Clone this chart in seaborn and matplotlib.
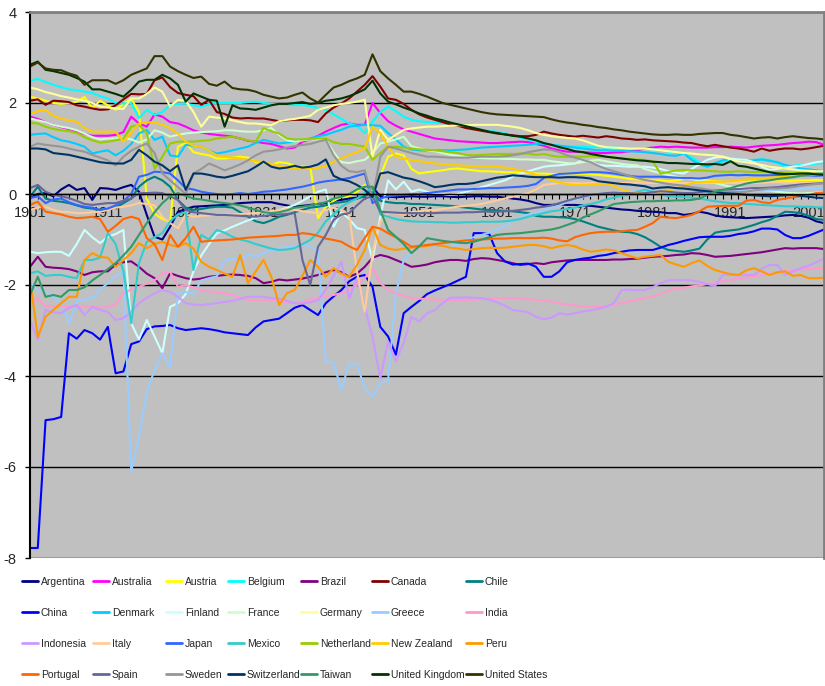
import matplotlib
matplotlib.use("Agg")
import matplotlib.pyplot as plt
from matplotlib.lines import Line2D
from matplotlib.ticker import MultipleLocator
import pandas as pd
import seaborn as sns

# --- data (one value per year, 1901-2003) ---
years = list(range(1901, 2004))

argentina = [-0.09, 0.00, 0.02, -0.05, 0.10, 0.20, 0.09, 0.13, -0.13, 0.13,
             0.12, 0.09, 0.15, 0.20, 0.05, -0.46, -0.94, -1.00, -0.72, -0.39,
             -0.33, -0.28, -0.27, -0.26, -0.25, -0.24, -0.22, -0.20, -0.19, -0.18,
             -0.18, -0.18, -0.22, -0.25, -0.28, -0.26, -0.24, -0.22, -0.20, -0.15,
             -0.13, -0.10, -0.08, -0.05, 0.15, -0.05, -0.06, -0.07, -0.06, -0.05,
             -0.06, -0.06, -0.05, -0.05, -0.06, -0.07, -0.06, -0.05, -0.05, -0.06,
             -0.06, -0.08, -0.10, -0.12, -0.15, -0.20, -0.24, -0.24, -0.23, -0.24,
             -0.24, -0.25, -0.26, -0.28, -0.30, -0.32, -0.34, -0.35, -0.37, -0.38,
             -0.39, -0.40, -0.42, -0.42, -0.46, -0.44, -0.39, -0.42, -0.47, -0.50,
             -0.51, -0.52, -0.53, -0.52, -0.51, -0.50, -0.49, -0.47, -0.46, -0.48,
             -0.52, -0.60, -0.64]
australia = [1.70, 1.65, 1.58, 1.52, 1.47, 1.43, 1.38, 1.32, 1.28, 1.28,
             1.28, 1.30, 1.36, 1.70, 1.55, 1.48, 1.75, 1.70, 1.58, 1.55,
             1.48, 1.40, 1.35, 1.32, 1.30, 1.28, 1.26, 1.22, 1.17, 1.15,
             1.12, 1.10, 1.05, 1.00, 1.02, 1.15, 1.20, 1.28, 1.37, 1.45,
             1.52, 1.55, 1.52, 1.52, 2.00, 1.78, 1.60, 1.50, 1.42, 1.37,
             1.32, 1.27, 1.22, 1.20, 1.18, 1.16, 1.15, 1.14, 1.13, 1.12,
             1.12, 1.13, 1.14, 1.15, 1.14, 1.10, 1.06, 1.00, 0.96, 0.93,
             0.93, 0.92, 0.91, 0.90, 0.90, 0.91, 0.92, 0.94, 0.96, 1.00,
             1.02, 1.04, 1.03, 1.04, 1.03, 1.02, 1.02, 1.02, 1.03, 1.03,
             1.04, 1.03, 1.02, 1.04, 1.06, 1.07, 1.08, 1.10, 1.12, 1.13,
             1.15, 1.14, 1.08]
austria = [2.14, 2.10, 2.05, 2.00, 1.98, 2.00, 2.03, 2.13, 1.88, 2.05,
           1.95, 1.85, 1.98, 2.10, 1.80, -0.10, -0.43, -0.55, -0.61, 1.04,
           1.12, 0.92, 0.88, 0.85, 0.78, 0.78, 0.80, 0.82, 0.80, 0.70,
           0.68, 0.64, 0.70, 0.68, 0.62, 0.60, 0.60, -0.53, -0.28, -0.15,
           -0.06, -0.05, 0.05, 0.20, 0.05, 0.40, 0.82, 0.89, 0.85, 0.55,
           0.45, 0.48, 0.50, 0.52, 0.55, 0.56, 0.54, 0.52, 0.50, 0.50,
           0.49, 0.48, 0.48, 0.47, 0.46, 0.45, 0.45, 0.44, 0.44, 0.45,
           0.45, 0.44, 0.43, 0.42, 0.40, 0.38, 0.36, 0.33, 0.32, 0.32,
           0.30, 0.30, 0.28, 0.30, 0.33, 0.35, 0.33, 0.30, 0.28, 0.27,
           0.26, 0.26, 0.27, 0.28, 0.27, 0.27, 0.28, 0.28, 0.29, 0.30,
           0.30, 0.31, 0.30]
belgium = [2.49, 2.53, 2.46, 2.40, 2.35, 2.30, 2.28, 2.25, 2.22, 2.15,
           2.10, 2.00, 1.99, 2.00, 1.67, 1.85, 1.74, 1.80, 1.96, 1.98,
           1.99, 1.95, 1.92, 1.98, 2.00, 2.00, 2.00, 2.00, 2.02, 2.03,
           2.00, 1.98, 1.97, 1.96, 1.95, 1.96, 1.93, 1.89, 1.85, 1.75,
           1.65, 1.55, 1.50, 1.34, 1.59, 1.80, 1.92, 1.82, 1.70, 1.63,
           1.60, 1.58, 1.57, 1.56, 1.55, 1.52, 1.48, 1.44, 1.40, 1.38,
           1.37, 1.33, 1.28, 1.24, 1.20, 1.16, 1.11, 1.08, 1.06, 1.05,
           1.04, 1.04, 1.03, 1.03, 1.02, 1.02, 1.01, 1.00, 1.00, 1.00,
           0.98, 0.96, 0.93, 0.90, 0.89, 0.80, 0.70, 0.60, 0.65, 0.72,
           0.75, 0.75, 0.74, 0.75, 0.76, 0.75, 0.68, 0.60, 0.62, 0.64,
           0.65, 0.67, 0.68]
brazil = [-1.60, -1.38, -1.60, -1.62, -1.63, -1.65, -1.70, -1.78, -1.72, -1.70,
          -1.70, -1.55, -1.50, -1.48, -1.60, -1.75, -1.85, -2.07, -1.74, -1.80,
          -1.85, -1.88, -1.86, -1.82, -1.80, -1.78, -1.77, -1.78, -1.80, -1.85,
          -1.96, -1.93, -1.88, -1.90, -1.88, -1.86, -1.82, -1.78, -1.72, -1.67,
          -1.72, -1.82, -1.75, -1.60, -1.40, -1.34, -1.38, -1.45, -1.52, -1.60,
          -1.58, -1.55, -1.50, -1.47, -1.45, -1.45, -1.47, -1.43, -1.41, -1.42,
          -1.45, -1.48, -1.52, -1.56, -1.54, -1.52, -1.54, -1.50, -1.48, -1.46,
          -1.45, -1.45, -1.45, -1.45, -1.45, -1.44, -1.44, -1.43, -1.42, -1.40,
          -1.38, -1.37, -1.36, -1.34, -1.33, -1.30, -1.31, -1.34, -1.38, -1.37,
          -1.36, -1.34, -1.32, -1.30, -1.28, -1.25, -1.22, -1.19, -1.20, -1.19,
          -1.19, -1.19, -1.21]
canada = [2.05, 2.08, 1.96, 2.05, 2.04, 2.02, 1.95, 1.92, 1.88, 1.85,
          1.86, 1.95, 2.08, 2.20, 2.19, 2.20, 2.50, 2.56, 2.35, 2.22,
          2.18, 2.15, 1.96, 2.07, 1.80, 1.76, 1.68, 1.66, 1.67, 1.66,
          1.66, 1.63, 1.60, 1.62, 1.63, 1.63, 1.62, 1.58, 1.77, 1.90,
          1.99, 2.10, 2.25, 2.40, 2.59, 2.36, 2.10, 2.07, 1.98, 1.85,
          1.75, 1.68, 1.63, 1.58, 1.53, 1.50, 1.45, 1.42, 1.39, 1.36,
          1.33, 1.31, 1.29, 1.27, 1.27, 1.30, 1.37, 1.33, 1.30, 1.28,
          1.26, 1.28, 1.26, 1.24, 1.27, 1.25, 1.22, 1.21, 1.19, 1.20,
          1.18, 1.17, 1.16, 1.15, 1.13, 1.12, 1.08, 1.05, 1.08, 1.05,
          1.02, 1.00, 0.97, 0.93, 1.00, 0.95, 0.98, 1.00, 1.00, 0.98,
          1.00, 1.03, 1.06]
chile = [-0.06, 0.16, -0.10, -0.15, -0.17, -0.20, -0.25, -0.30, -0.32, -0.35,
         -0.33, -0.30, -0.20, -0.10, 0.16, 0.30, 0.38, 0.30, 0.16, -0.13,
         -0.30, -0.35, -0.33, -0.30, -0.28, -0.28, -0.30, -0.40, -0.50, -0.60,
         -0.64, -0.58, -0.50, -0.46, -0.40, -0.35, -0.30, -0.28, -0.25, -0.20,
         -0.18, -0.15, -0.10, -0.05, 0.05, -0.15, -0.18, -0.20, -0.20, -0.22,
         -0.22, -0.23, -0.24, -0.25, -0.26, -0.28, -0.30, -0.32, -0.34, -0.35,
         -0.36, -0.37, -0.38, -0.40, -0.42, -0.48, -0.50, -0.50, -0.51, -0.52,
         -0.55, -0.60, -0.66, -0.72, -0.76, -0.80, -0.83, -0.84, -0.88, -0.95,
         -1.05, -1.16, -1.23, -1.25, -1.27, -1.24, -1.20, -1.00, -0.85, -0.82,
         -0.80, -0.78, -0.73, -0.68, -0.62, -0.57, -0.48, -0.39, -0.40, -0.42,
         -0.48, -0.55, -0.57]
china = [-7.78, -7.78, -4.97, -4.95, -4.90, -3.06, -3.18, -2.99, -3.06, -3.20,
         -2.92, -3.94, -3.90, -3.30, -3.24, -2.97, -2.91, -2.90, -2.88, -2.95,
         -2.99, -2.97, -2.95, -2.97, -3.00, -3.04, -3.06, -3.08, -3.10, -2.93,
         -2.80, -2.77, -2.74, -2.62, -2.50, -2.44, -2.55, -2.66, -2.40, -2.25,
         -2.11, -1.92, -1.82, -1.78, -2.04, -2.92, -3.13, -3.53, -2.62, -2.48,
         -2.35, -2.20, -2.12, -2.05, -1.98, -1.90, -1.82, -0.86, -0.86, -0.88,
         -1.30, -1.48, -1.55, -1.54, -1.53, -1.60, -1.82, -1.82, -1.70, -1.50,
         -1.45, -1.42, -1.40, -1.36, -1.34, -1.30, -1.27, -1.24, -1.23, -1.23,
         -1.23, -1.18, -1.12, -1.08, -1.03, -0.99, -0.95, -0.94, -0.94, -0.94,
         -0.92, -0.88, -0.86, -0.82, -0.76, -0.76, -0.78, -0.90, -0.97, -0.97,
         -0.92, -0.85, -0.78]
denmark = [1.30, 1.32, 1.33, 1.25, 1.18, 1.15, 1.10, 1.04, 0.89, 0.93,
           0.96, 0.85, 0.95, 1.10, 1.33, 1.41, 1.19, 1.26, 0.85, 0.82,
           1.08, 1.06, 1.04, 0.95, 0.89, 0.92, 0.96, 1.00, 1.04, 1.12,
           1.19, 1.15, 1.11, 1.13, 1.15, 1.18, 1.22, 1.27, 1.30, 1.36,
           1.41, 1.48, 1.50, 1.52, 1.51, 1.50, 1.34, 1.20, 1.04, 0.98,
           0.96, 0.95, 0.96, 0.96, 0.96, 0.97, 0.98, 1.00, 1.02, 1.03,
           1.04, 1.05, 1.06, 1.07, 1.08, 1.10, 1.11, 1.08, 1.06, 1.04,
           1.02, 1.00, 0.98, 0.96, 0.96, 0.95, 0.95, 0.94, 0.93, 0.92,
           0.90, 0.88, 0.85, 0.84, 0.89, 0.75, 0.65, 0.60, 0.68, 0.74,
           0.78, 0.74, 0.72, 0.74, 0.76, 0.73, 0.70, 0.64, 0.60, 0.56,
           0.54, 0.52, 0.50]
finland = [-1.27, -1.30, -1.28, -1.27, -1.27, -1.36, -1.10, -0.79, -0.95, -1.08,
           -0.94, -0.88, -0.79, -2.84, -3.20, -2.77, -3.13, -3.50, -2.48, -2.40,
           -2.20, -1.70, -1.35, -1.10, -0.86, -0.80, -0.72, -0.65, -0.58, -0.52,
           -0.48, -0.42, -0.36, -0.30, -0.24, -0.15, -0.05, 0.05, 0.10, -0.72,
           -0.40, -0.55, -0.75, -0.79, -1.45, -0.50, 0.30, 0.10, 0.27, 0.05,
           0.10, 0.05, 0.02, 0.00, -0.02, 0.00, 0.05, 0.10, 0.15, 0.20,
           0.25, 0.30, 0.38, 0.45, 0.50, 0.55, 0.60, 0.62, 0.63, 0.65,
           0.67, 0.75, 0.70, 0.64, 0.62, 0.62, 0.61, 0.60, 0.60, 0.60,
           0.58, 0.55, 0.50, 0.47, 0.45, 0.55, 0.65, 0.75, 0.80, 0.82,
           0.78, 0.76, 0.75, 0.70, 0.60, 0.53, 0.55, 0.58, 0.60, 0.62,
           0.66, 0.70, 0.72]
france = [1.66, 1.62, 1.58, 1.52, 1.48, 1.45, 1.40, 1.33, 1.25, 1.20,
          1.22, 1.22, 1.24, 1.20, 1.13, 1.20, 1.40, 1.35, 1.26, 1.30,
          1.33, 1.35, 1.36, 1.37, 1.38, 1.40, 1.40, 1.38, 1.37, 1.37,
          1.40, 1.45, 1.30, 1.18, 1.15, 1.18, 1.20, 1.20, 1.19, 0.92,
          0.70, 0.68, 0.72, 0.75, 0.90, 1.11, 1.15, 1.20, 1.26, 1.05,
          1.00, 0.96, 0.94, 0.90, 0.86, 0.84, 0.82, 0.80, 0.79, 0.78,
          0.78, 0.77, 0.77, 0.76, 0.76, 0.75, 0.75, 0.72, 0.70, 0.68,
          0.67, 0.70, 0.73, 0.75, 0.72, 0.69, 0.66, 0.64, 0.63, 0.55,
          0.50, 0.46, 0.42, 0.38, 0.35, 0.33, 0.30, 0.27, 0.24, 0.20,
          0.16, 0.14, 0.12, 0.10, 0.09, 0.07, 0.05, 0.03, 0.02, 0.01,
          0.02, 0.03, 0.02]
germany = [2.34, 2.30, 2.24, 2.20, 2.15, 2.12, 2.08, 2.05, 2.00, 1.92,
           1.90, 1.88, 1.87, 2.10, 2.10, 2.20, 2.34, 2.25, 1.92, 2.07,
           2.05, 1.80, 1.48, 1.70, 1.68, 1.66, 1.62, 1.58, 1.55, 1.55,
           1.53, 1.51, 1.60, 1.63, 1.65, 1.68, 1.72, 1.85, 1.90, 1.95,
           1.98, 2.00, 2.03, 2.07, 0.82, 1.41, 1.19, 1.30, 1.41, 1.44,
           1.46, 1.48, 1.48, 1.49, 1.50, 1.51, 1.51, 1.52, 1.52, 1.52,
           1.52, 1.50, 1.48, 1.45, 1.40, 1.34, 1.30, 1.27, 1.25, 1.23,
           1.22, 1.18, 1.12, 1.06, 1.03, 1.02, 1.01, 1.00, 1.00, 1.00,
           0.98, 0.96, 0.94, 0.92, 0.90, 0.89, 0.87, 0.86, 0.85, 0.82,
           0.76, 0.72, 0.70, 0.67, 0.64, 0.60, 0.58, 0.56, 0.54, 0.52,
           0.51, 0.50, 0.50]
greece = [-1.93, -2.11, -2.15, -2.25, -2.40, -2.84, -2.36, -2.32, -2.29, -2.10,
          -1.96, -1.80, -1.71, -6.10, -5.33, -4.35, -3.87, -3.50, -3.80, -2.18,
          -2.15, -2.20, -1.90, -1.85, -1.81, -1.45, -1.42, -1.45, -1.33, -1.37,
          -1.30, -1.24, -1.20, -1.16, -1.16, -1.10, -1.16, -1.25, -3.69, -3.71,
          -4.31, -3.72, -3.74, -4.27, -4.45, -4.16, -4.09, -2.20, -1.45, -1.30,
          -1.12, -1.12, -1.14, -1.16, -1.16, -1.10, -1.00, -0.95, -0.90, -0.85,
          -0.79, -0.70, -0.60, -0.50, -0.45, -0.42, -0.35, -0.30, -0.25, -0.18,
          -0.12, -0.08, -0.04, 0.00, 0.02, 0.04, 0.05, 0.05, 0.06, 0.06,
          0.05, 0.04, 0.03, 0.03, 0.02, 0.02, 0.01, 0.02, 0.03, 0.04,
          0.05, 0.06, 0.06, 0.07, 0.08, 0.08, 0.09, 0.10, 0.10, 0.11,
          0.12, 0.12, 0.13]
india = [-2.40, -2.30, -2.47, -2.46, -2.47, -2.47, -2.48, -2.47, -2.48, -2.50,
         -2.48, -2.43, -2.18, -2.10, -2.04, -1.97, -1.90, -1.74, -1.71, -2.04,
         -2.00, -2.05, -2.11, -2.14, -2.16, -2.18, -2.22, -2.28, -2.33, -2.33,
         -2.33, -2.33, -2.35, -2.38, -2.40, -2.38, -2.32, -2.28, -2.25, -2.22,
         -2.18, -2.11, -2.00, -1.85, -1.63, -1.96, -2.10, -2.18, -2.24, -2.29,
         -2.30, -2.31, -2.32, -2.33, -2.33, -2.33, -2.33, -2.32, -2.31, -2.30,
         -2.30, -2.29, -2.29, -2.29, -2.31, -2.33, -2.34, -2.36, -2.40, -2.43,
         -2.45, -2.47, -2.48, -2.48, -2.46, -2.43, -2.40, -2.36, -2.32, -2.28,
         -2.25, -2.20, -2.12, -2.09, -2.06, -2.03, -2.01, -1.98, -1.95, -1.92,
         -1.89, -1.86, -1.84, -1.81, -1.78, -1.75, -1.73, -1.70, -1.68, -1.66,
         -1.65, -1.64, -1.62]
indonesia = [-2.77, -3.20, -2.55, -2.60, -2.62, -2.50, -2.44, -2.66, -2.48, -2.55,
             -2.59, -2.77, -2.73, -2.59, -2.40, -2.28, -2.18, -2.11, -2.15, -2.26,
             -2.40, -2.43, -2.44, -2.42, -2.40, -2.37, -2.35, -2.30, -2.26, -2.26,
             -2.26, -2.29, -2.30, -2.35, -2.40, -2.41, -2.38, -2.33, -2.10, -1.80,
             -1.49, -2.29, -1.85, -2.48, -3.14, -4.05, -3.24, -3.68, -3.27, -2.70,
             -2.80, -2.62, -2.55, -2.40, -2.28, -2.28, -2.27, -2.28, -2.29, -2.32,
             -2.38, -2.45, -2.55, -2.57, -2.60, -2.70, -2.75, -2.72, -2.62, -2.65,
             -2.62, -2.58, -2.56, -2.52, -2.48, -2.40, -2.11, -2.10, -2.11, -2.11,
             -2.05, -1.96, -1.90, -1.89, -1.89, -1.90, -1.93, -1.98, -2.02, -1.78,
             -1.78, -1.79, -1.78, -1.78, -1.65, -1.56, -1.56, -1.78, -1.70, -1.63,
             -1.58, -1.50, -1.42]
italy = [-0.35, -0.30, -0.28, -0.35, -0.39, -0.40, -0.42, -0.42, -0.40, -0.39,
         -0.35, -0.30, -0.28, -0.25, -0.20, -0.22, -0.25, -0.50, -0.64, -0.75,
         -0.46, -0.50, -0.48, -0.47, -0.46, -0.45, -0.45, -0.44, -0.43, -0.42,
         -0.40, -0.38, -0.36, -0.33, -0.35, -0.38, -0.40, -0.42, -0.35, -0.30,
         -0.35, -0.45, -1.70, -2.59, -1.30, -0.60, -0.42, -0.42, -0.45, -0.40,
         -0.38, -0.36, -0.35, -0.33, -0.30, -0.28, -0.26, -0.24, -0.22, -0.18,
         -0.14, -0.10, -0.06, -0.02, 0.02, 0.10, 0.20, 0.22, 0.24, 0.24,
         0.24, 0.23, 0.24, 0.25, 0.24, 0.24, 0.24, 0.25, 0.25, 0.25,
         0.24, 0.24, 0.25, 0.25, 0.24, 0.24, 0.25, 0.24, 0.25, 0.25,
         0.24, 0.24, 0.25, 0.24, 0.25, 0.26, 0.26, 0.25, 0.25, 0.25,
         0.25, 0.26, 0.25]
japan = [-0.09, -0.05, -0.20, -0.12, -0.10, -0.18, -0.24, -0.28, -0.30, -0.35,
         -0.32, -0.25, -0.15, 0.00, 0.38, 0.42, 0.49, 0.48, 0.45, 0.30,
         0.13, 0.10, 0.05, 0.02, 0.00, -0.02, 0.00, 0.02, 0.00, 0.02,
         0.05, 0.06, 0.08, 0.10, 0.13, 0.16, 0.20, 0.25, 0.28, 0.30,
         0.32, 0.35, 0.40, 0.45, -0.20, -0.10, -0.05, -0.03, -0.02, 0.00,
         0.00, 0.02, 0.04, 0.06, 0.08, 0.10, 0.10, 0.11, 0.12, 0.13,
         0.13, 0.14, 0.15, 0.16, 0.18, 0.22, 0.35, 0.40, 0.44, 0.45,
         0.46, 0.47, 0.48, 0.48, 0.47, 0.45, 0.42, 0.40, 0.38, 0.38,
         0.38, 0.38, 0.37, 0.36, 0.35, 0.35, 0.34, 0.36, 0.40, 0.41,
         0.42, 0.41, 0.42, 0.41, 0.41, 0.41, 0.42, 0.41, 0.40, 0.41,
         0.41, 0.40, 0.41]
mexico = [-1.74, -1.70, -1.80, -1.78, -1.78, -1.82, -1.85, -1.45, -1.45, -1.40,
          -0.86, -1.10, -1.70, -2.84, -1.52, -1.05, -0.95, -0.86, -0.60, -0.45,
          -0.40, -1.67, -0.90, -1.00, -0.79, -0.85, -0.94, -1.00, -1.04, -1.10,
          -1.15, -1.20, -1.23, -1.22, -1.19, -1.10, -1.01, -0.85, -0.60, -0.45,
          -0.28, -0.18, -0.10, 0.02, 0.15, -0.45, -0.50, -0.55, -0.58, -0.60,
          -0.61, -0.61, -0.62, -0.62, -0.63, -0.63, -0.62, -0.62, -0.61, -0.61,
          -0.61, -0.60, -0.58, -0.55, -0.50, -0.46, -0.42, -0.38, -0.36, -0.33,
          -0.30, -0.25, -0.22, -0.18, -0.12, -0.08, -0.04, -0.02, 0.05, 0.09,
          0.05, 0.00, -0.05, -0.06, -0.07, -0.08, -0.10, -0.13, -0.16, -0.18,
          -0.20, -0.20, -0.22, -0.23, -0.24, -0.25, -0.26, -0.27, -0.27, -0.28,
          -0.28, -0.29, -0.30]
netherland = [1.56, 1.55, 1.48, 1.43, 1.40, 1.38, 1.34, 1.25, 1.18, 1.13,
              1.15, 1.18, 1.22, 1.48, 1.52, 1.34, 0.55, 0.82, 1.11, 1.15,
              1.15, 1.15, 1.17, 1.18, 1.22, 1.24, 1.26, 1.22, 1.18, 1.15,
              1.45, 1.38, 1.33, 1.22, 1.20, 1.20, 1.21, 1.22, 1.22, 1.14,
              1.10, 1.10, 1.07, 1.04, 0.75, 0.90, 1.04, 1.04, 1.02, 1.00,
              0.98, 0.97, 0.96, 0.94, 0.92, 0.90, 0.86, 0.85, 0.86, 0.87,
              0.88, 0.88, 0.88, 0.89, 0.89, 0.86, 0.88, 0.84, 0.82, 0.82,
              0.82, 0.82, 0.83, 0.82, 0.82, 0.80, 0.78, 0.77, 0.76, 0.75,
              0.72, 0.45, 0.48, 0.52, 0.53, 0.52, 0.52, 0.51, 0.50, 0.49,
              0.49, 0.50, 0.49, 0.48, 0.49, 0.49, 0.48, 0.47, 0.46, 0.46,
              0.45, 0.45, 0.44]
new_zealand = [1.77, 1.82, 1.85, 1.72, 1.66, 1.62, 1.59, 1.45, 1.37, 1.37,
               1.37, 1.37, 1.15, 1.35, 1.55, 1.57, 1.58, 1.52, 1.45, 1.33,
               1.15, 1.06, 1.04, 0.95, 0.85, 0.82, 0.80, 0.78, 0.75, 0.72,
               0.70, 0.66, 0.62, 0.58, 0.57, 0.57, 0.57, 0.57, 0.62, 0.71,
               0.78, 0.86, 0.92, 1.00, 1.48, 1.34, 1.04, 0.82, 0.78, 0.75,
               0.72, 0.70, 0.67, 0.66, 0.64, 0.63, 0.62, 0.61, 0.60, 0.60,
               0.60, 0.58, 0.55, 0.52, 0.48, 0.42, 0.38, 0.30, 0.25, 0.22,
               0.20, 0.20, 0.21, 0.22, 0.23, 0.18, 0.10, 0.05, 0.02, 0.03,
               0.02, 0.05, 0.08, 0.12, 0.18, 0.24, 0.26, 0.27, 0.27, 0.27,
               0.28, 0.30, 0.32, 0.33, 0.34, 0.36, 0.37, 0.38, 0.40, 0.41,
               0.42, 0.42, 0.43]
peru = [-1.89, -3.14, -2.70, -2.55, -2.40, -2.26, -2.26, -1.45, -1.30, -1.38,
        -1.40, -1.60, -1.45, -1.30, -1.08, -1.19, -1.10, -1.05, -1.12, -1.16,
        -1.08, -1.20, -1.49, -1.60, -1.67, -1.75, -1.82, -1.34, -1.96, -1.70,
        -1.45, -1.82, -2.44, -2.18, -2.11, -1.80, -1.45, -1.60, -1.82, -1.63,
        -1.75, -1.82, -1.56, -1.23, -0.72, -1.12, -1.20, -1.23, -1.20, -1.18,
        -1.16, -1.14, -1.12, -1.14, -1.18, -1.20, -1.23, -1.21, -1.19, -1.18,
        -1.19, -1.18, -1.16, -1.14, -1.12, -1.12, -1.15, -1.19, -1.15, -1.12,
        -1.15, -1.22, -1.27, -1.25, -1.22, -1.24, -1.30, -1.36, -1.41, -1.38,
        -1.36, -1.34, -1.49, -1.55, -1.60, -1.52, -1.46, -1.58, -1.67, -1.72,
        -1.76, -1.78, -1.68, -1.63, -1.70, -1.78, -1.72, -1.70, -1.80, -1.78,
        -1.85, -1.85, -1.84]
portugal = [-0.24, -0.17, -0.39, -0.42, -0.45, -0.50, -0.53, -0.52, -0.50, -0.55,
            -0.83, -0.70, -0.55, -0.50, -0.55, -0.97, -1.10, -1.45, -0.90, -1.16,
            -0.97, -0.72, -1.05, -1.03, -1.02, -1.01, -1.00, -0.98, -0.96, -0.95,
            -0.94, -0.93, -0.92, -0.90, -0.90, -0.86, -0.88, -0.92, -0.98, -1.01,
            -1.05, -1.15, -1.23, -0.97, -0.72, -0.76, -0.86, -0.95, -1.05, -1.16,
            -1.14, -1.12, -1.10, -1.08, -1.06, -1.04, -1.02, -1.01, -1.00, -0.99,
            -0.98, -0.98, -0.97, -0.97, -0.97, -0.97, -0.96, -0.98, -1.02, -1.04,
            -0.95, -0.90, -0.86, -0.84, -0.83, -0.83, -0.82, -0.80, -0.79, -0.72,
            -0.64, -0.50, -0.52, -0.53, -0.50, -0.46, -0.38, -0.28, -0.27, -0.26,
            -0.26, -0.26, -0.15, -0.13, -0.18, -0.20, -0.13, -0.10, -0.07, -0.05,
            -0.02, 0.02, 0.02]
spain = [0.13, 0.20, 0.05, -0.02, -0.05, -0.09, -0.15, -0.22, -0.24, -0.22,
         -0.20, -0.20, -0.15, -0.10, 0.02, 0.02, 0.03, 0.02, -0.05, -0.13,
         -0.35, -0.40, -0.42, -0.44, -0.46, -0.46, -0.47, -0.48, -0.49, -0.50,
         -0.48, -0.46, -0.45, -0.44, -0.42, -1.45, -2.00, -1.16, -0.90, -0.57,
         -0.45, -0.42, -0.25, -0.10, -0.05, -0.39, -0.40, -0.41, -0.42, -0.42,
         -0.42, -0.42, -0.42, -0.41, -0.41, -0.41, -0.40, -0.40, -0.39, -0.39,
         -0.39, -0.38, -0.37, -0.35, -0.33, -0.30, -0.28, -0.25, -0.20, -0.15,
         -0.10, -0.06, -0.02, 0.00, 0.02, 0.03, 0.02, 0.02, 0.01, 0.02,
         0.04, 0.06, 0.05, 0.03, 0.02, 0.02, 0.04, 0.06, 0.08, 0.09,
         0.10, 0.11, 0.12, 0.13, 0.13, 0.14, 0.15, 0.17, 0.19, 0.21,
         0.22, 0.23, 0.24]
sweden = [1.04, 1.11, 1.08, 1.06, 1.04, 1.00, 0.96, 0.93, 0.86, 0.80,
          0.74, 0.63, 0.82, 0.95, 1.04, 1.11, 0.90, 0.45, 0.30, 0.15,
          0.00, 0.45, 0.55, 0.67, 0.60, 0.52, 0.58, 0.65, 0.74, 0.85,
          0.93, 0.95, 0.98, 1.02, 1.05, 1.08, 1.10, 1.15, 1.19, 0.85,
          0.62, 0.50, 0.48, 0.52, -0.10, 0.82, 1.04, 1.00, 0.95, 0.90,
          0.86, 0.82, 0.82, 0.81, 0.80, 0.80, 0.80, 0.81, 0.82, 0.82,
          0.82, 0.83, 0.85, 0.88, 0.92, 0.95, 0.98, 0.97, 0.92, 0.85,
          0.80, 0.75, 0.70, 0.62, 0.55, 0.50, 0.45, 0.40, 0.35, 0.31,
          0.28, 0.25, 0.22, 0.20, 0.18, 0.15, 0.13, 0.10, 0.08, 0.06,
          0.05, 0.04, 0.05, 0.08, 0.10, 0.12, 0.12, 0.13, 0.15, 0.18,
          0.20, 0.22, 0.24]
switzerland = [1.00, 1.00, 0.98, 0.90, 0.88, 0.86, 0.82, 0.78, 0.74, 0.70,
               0.68, 0.67, 0.67, 0.75, 0.97, 0.85, 0.71, 0.63, 0.50, 0.63,
               0.09, 0.45, 0.45, 0.42, 0.38, 0.36, 0.40, 0.45, 0.50, 0.60,
               0.71, 0.60, 0.56, 0.58, 0.62, 0.58, 0.60, 0.65, 0.76, 0.40,
               0.32, 0.28, 0.20, 0.09, -0.07, 0.45, 0.48, 0.42, 0.36, 0.33,
               0.28, 0.22, 0.15, 0.17, 0.20, 0.22, 0.22, 0.24, 0.28, 0.32,
               0.36, 0.38, 0.41, 0.40, 0.38, 0.37, 0.37, 0.37, 0.36, 0.37,
               0.37, 0.36, 0.34, 0.28, 0.26, 0.24, 0.22, 0.21, 0.19, 0.17,
               0.12, 0.14, 0.15, 0.13, 0.12, 0.10, 0.08, 0.06, 0.04, 0.02,
               0.01, 0.00, -0.02, -0.03, -0.04, -0.05, -0.04, -0.03, -0.02, -0.04,
               -0.06, -0.08, -0.09]
taiwan = [-2.22, -1.82, -2.26, -2.22, -2.26, -2.11, -2.11, -2.05, -1.90, -1.78,
          -1.65, -1.52, -1.35, -1.16, -0.90, -0.64, -0.40, -0.20, -0.05, 0.02,
          -0.04, -0.10, -0.12, -0.15, -0.18, -0.20, -0.22, -0.25, -0.30, -0.35,
          -0.40, -0.42, -0.40, -0.36, -0.30, -0.28, -0.25, -0.22, -0.18, -0.10,
          -0.06, 0.00, 0.10, 0.16, 0.16, -0.35, -0.79, -0.94, -1.10, -1.30,
          -1.15, -0.97, -1.00, -1.03, -1.05, -1.07, -1.08, -1.05, -1.00, -0.95,
          -0.90, -0.88, -0.87, -0.86, -0.84, -0.82, -0.80, -0.78, -0.74, -0.68,
          -0.62, -0.52, -0.45, -0.38, -0.30, -0.22, -0.20, -0.18, -0.17, -0.16,
          -0.16, -0.15, -0.15, -0.14, -0.14, -0.13, -0.10, -0.02, 0.05, 0.09,
          0.13, 0.18, 0.23, 0.26, 0.28, 0.30, 0.33, 0.35, 0.37, 0.40,
          0.42, 0.44, 0.45]
united_kingdom = [2.84, 2.91, 2.73, 2.70, 2.66, 2.62, 2.55, 2.47, 2.30, 2.30,
                  2.25, 2.20, 2.14, 2.29, 2.47, 2.51, 2.51, 2.62, 2.54, 2.40,
                  2.03, 2.21, 2.14, 2.07, 2.05, 1.48, 1.95, 1.88, 1.87, 1.85,
                  1.90, 1.95, 1.98, 1.98, 2.00, 2.02, 1.98, 2.00, 2.05, 2.07,
                  2.10, 2.15, 2.22, 2.30, 2.49, 2.21, 2.03, 1.97, 1.90, 1.84,
                  1.77, 1.72, 1.66, 1.62, 1.57, 1.53, 1.49, 1.45, 1.41, 1.37,
                  1.34, 1.31, 1.28, 1.26, 1.22, 1.18, 1.12, 1.08, 1.03, 0.99,
                  0.94, 0.92, 0.88, 0.85, 0.82, 0.80, 0.78, 0.76, 0.74, 0.73,
                  0.71, 0.70, 0.68, 0.68, 0.67, 0.66, 0.66, 0.65, 0.66, 0.64,
                  0.72, 0.62, 0.60, 0.56, 0.52, 0.48, 0.45, 0.44, 0.44, 0.45,
                  0.45, 0.43, 0.42]
united_states = [2.80, 2.89, 2.76, 2.73, 2.72, 2.65, 2.60, 2.40, 2.50, 2.50,
                 2.50, 2.42, 2.50, 2.62, 2.69, 2.76, 3.03, 3.03, 2.80, 2.70,
                 2.62, 2.55, 2.58, 2.42, 2.38, 2.47, 2.33, 2.30, 2.29, 2.25,
                 2.18, 2.14, 2.10, 2.12, 2.18, 2.23, 2.10, 2.01, 2.18, 2.34,
                 2.40, 2.48, 2.54, 2.62, 3.07, 2.70, 2.54, 2.40, 2.25, 2.25,
                 2.20, 2.14, 2.07, 2.00, 1.96, 1.92, 1.88, 1.84, 1.80, 1.77,
                 1.75, 1.74, 1.73, 1.72, 1.71, 1.70, 1.69, 1.64, 1.60, 1.57,
                 1.55, 1.52, 1.50, 1.47, 1.45, 1.42, 1.40, 1.37, 1.35, 1.33,
                 1.31, 1.30, 1.30, 1.31, 1.30, 1.30, 1.32, 1.33, 1.34, 1.34,
                 1.30, 1.28, 1.25, 1.22, 1.24, 1.25, 1.22, 1.25, 1.27, 1.25,
                 1.23, 1.22, 1.20]

countries = ["Argentina", "Australia", "Austria", "Belgium", "Brazil", "Canada", "Chile",
             "China", "Denmark", "Finland", "France", "Germany", "Greece", "India",
             "Indonesia", "Italy", "Japan", "Mexico", "Netherland", "New Zealand", "Peru",
             "Portugal", "Spain", "Sweden", "Switzerland", "Taiwan", "United Kingdom",
             "United States"]
series = [argentina, australia, austria, belgium, brazil, canada, chile,
          china, denmark, finland, france, germany, greece, india,
          indonesia, italy, japan, mexico, netherland, new_zealand, peru,
          portugal, spain, sweden, switzerland, taiwan, united_kingdom, united_states]

# excel-style palette
colors = ["#000080", "#FF00FF", "#FFFF00", "#00FFFF", "#800080", "#800000", "#008080",
          "#0000FF", "#00CCFF", "#CCFFFF", "#CCFFCC", "#FFFF99", "#99CCFF", "#FF99CC",
          "#CC99FF", "#FFCC99", "#3366FF", "#33CCCC", "#99CC00", "#FFCC00", "#FF9900",
          "#FF6600", "#666699", "#969696", "#003366", "#339966", "#003300", "#333300"]
palette = dict(zip(countries, colors))

df = pd.DataFrame(dict(zip(countries, series)), index=years)
long_df = df.reset_index(names="year").melt(id_vars="year", var_name="country", value_name="value")

sns.set_style("white")
plt.rcParams["font.family"] = ["Liberation Sans", "DejaVu Sans"]
plt.rcParams["axes.unicode_minus"] = False

fig = plt.figure(figsize=(8.25, 6.86), dpi=100)
ax = fig.add_axes([30 / 825, 1 - 558 / 686, 794 / 825, 546 / 686])
ax.set_facecolor("#C0C0C0")

sns.lineplot(data=long_df, x="year", y="value", hue="country", hue_order=countries,
             palette=palette, linewidth=1.5, errorbar=None, legend=False, ax=ax)

ax.set_xlim(1901, 2003)
ax.set_ylim(-8, 4)
ax.set_xlabel("")
ax.set_ylabel("")

# axes: x axis sits on the zero line
ax.set_axisbelow(True)
ax.yaxis.grid(True, color="black", linewidth=1)
ax.xaxis.grid(False)
ax.set_yticks(range(-8, 5, 2))
ax.set_xticks(range(1901, 2002, 10))
ax.xaxis.set_minor_locator(MultipleLocator(1))
ax.spines["bottom"].set_position(("data", 0))
ax.spines["bottom"].set_color("black")
ax.spines["bottom"].set_linewidth(1.0)
ax.spines["left"].set_color("black")
ax.spines["left"].set_linewidth(1.5)
for side in ("top", "right"):
    ax.spines[side].set_color("#808080")
    ax.spines[side].set_linewidth(2)
ax.tick_params(axis="x", which="both", direction="out", length=3.6, width=0.8,
               color="black", bottom=True, pad=5, labelsize=10.5)
ax.tick_params(axis="y", direction="out", length=3.6, width=1, color="black",
               left=True, pad=6, labelsize=10.5)

# legend laid out in 7 fixed columns, rows read left to right
col_x = [22, 93, 166, 228, 301, 372, 466]
for c in range(7):
    names = [countries[r * 7 + c] for r in range(4)]
    handles = [Line2D([], [], color=palette[n], linewidth=2) for n in names]
    fig.legend(handles, names, loc="upper left",
               bbox_to_anchor=(col_x[c] / 825, 1 - 577 / 686),
               frameon=False, fontsize=7.5, handlelength=1.55, handletextpad=0.25,
               borderpad=0, borderaxespad=0, labelspacing=2.0)

fig.savefig("out.png", dpi=100)
